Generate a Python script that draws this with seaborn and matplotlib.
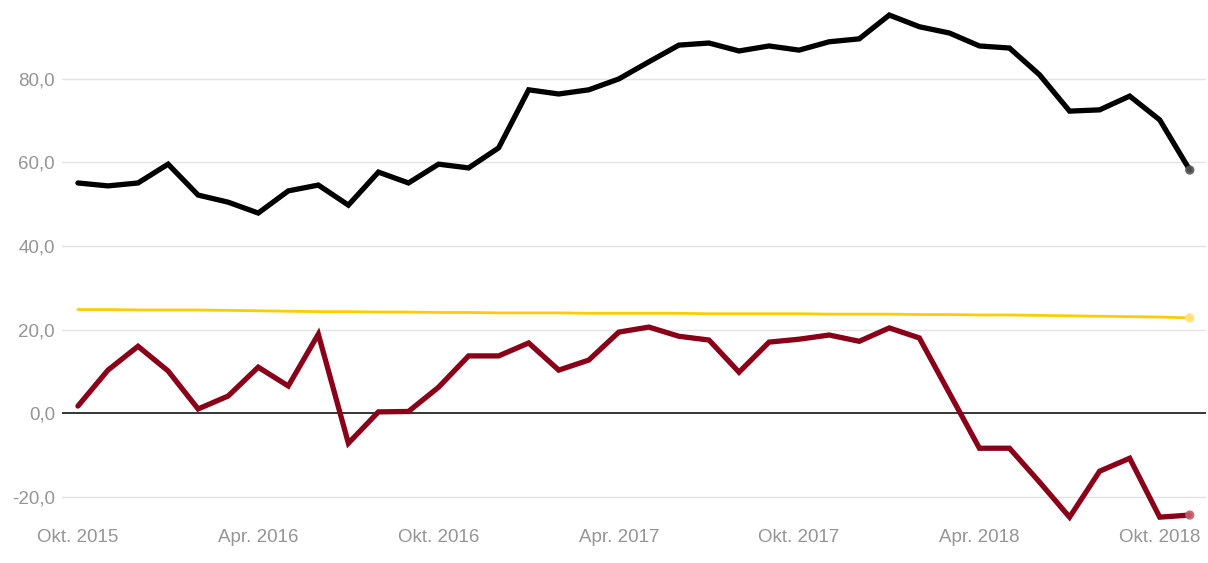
import matplotlib
matplotlib.use("Agg")
import matplotlib.pyplot as plt
import seaborn as sns
import pandas as pd

# --- data (monthly, Okt. 2015 .. Nov. 2018) ---
months = pd.date_range("2015-10-01", periods=38, freq="MS")

black_vals = [55.1, 54.4, 55.1, 59.6, 52.2, 50.5, 47.9, 53.2, 54.6, 49.8,
              57.7, 55.1, 59.6, 58.7, 63.5, 77.4, 76.4, 77.4, 80.0, 84.1,
              88.1, 88.6, 86.7, 87.9, 86.9, 88.9, 89.6, 95.3, 92.5, 91.0,
              87.9, 87.4, 81.0, 72.3, 72.6, 75.9, 70.2, 58.2]

red_vals = [1.7, 10.3, 16.0, 10.1, 1.0, 4.1, 11.0, 6.5, 18.9, -7.2,
            0.3, 0.4, 6.2, 13.7, 13.7, 16.8, 10.3, 12.7, 19.4, 20.6,
            18.4, 17.5, 9.8, 17.0, 17.7, 18.7, 17.2, 20.4, 18.0, 4.8,
            -8.4, -8.4, -16.5, -24.9, -13.9, -10.8, -24.9, -24.4]

yellow_vals = [24.8, 24.8, 24.7, 24.7, 24.7, 24.6, 24.5, 24.4, 24.3, 24.3,
               24.2, 24.2, 24.1, 24.1, 24.0, 24.0, 24.0, 23.9, 23.9, 23.9,
               23.9, 23.8, 23.8, 23.8, 23.8, 23.7, 23.7, 23.7, 23.6, 23.6,
               23.5, 23.5, 23.4, 23.3, 23.2, 23.1, 23.0, 22.8]

y_ticks = [-20, 0, 20, 40, 60, 80]
x_tick_pos = [0, 6, 12, 18, 24, 30, 36]
x_tick_labels = ["Okt. 2015", "Apr. 2016", "Okt. 2016", "Apr. 2017",
                 "Okt. 2017", "Apr. 2018", "Okt. 2018"]

df = pd.DataFrame({
    "idx": range(len(months)),
    "black": black_vals,
    "red": red_vals,
    "yellow": yellow_vals,
})

sns.set_style("white")
plt.rcParams["font.family"] = ["Liberation Sans", "DejaVu Sans"]

fig = plt.figure(figsize=(12.08, 5.63), dpi=100)
ax = fig.add_axes([62 / 1208, 40 / 563, (1206 - 62) / 1208, 523 / 563])

grid_c = "#e3e3e3"
for v in y_ticks:
    if v == 0:
        ax.axhline(v, color="black", lw=1.1, zorder=1)
    else:
        ax.axhline(v, color=grid_c, lw=1.0, zorder=0)

series = [("yellow", "#ffcc00", 2.0, "#ffe27a"),
          ("red", "#8b0019", 3.8, "#c0606e"),
          ("black", "#000000", 3.8, "#555555")]
for col, color, lw, mk in series:
    sns.lineplot(data=df, x="idx", y=col, color=color, lw=lw, ax=ax,
                 solid_joinstyle="miter", clip_on=False, zorder=3)
    ax.scatter(df["idx"].iloc[-1], df[col].iloc[-1], s=45, color=mk,
               zorder=4, clip_on=False, edgecolors="none", alpha=0.9)

ax.set_xlim(-0.53, 37.54)
ax.set_ylim(-26.3, 98.9)
ax.set_yticks(y_ticks)
ax.set_yticklabels([f"{v:.1f}".replace(".", ",") for v in y_ticks])
ax.set_xticks(x_tick_pos)
ax.set_xticklabels(x_tick_labels)
ax.tick_params(axis="both", length=0, labelsize=13.5, colors="#959595")
ax.tick_params(axis="y", pad=5)
ax.tick_params(axis="x", pad=4)
ax.set_xlabel("")
ax.set_ylabel("")
for s in ax.spines.values():
    s.set_visible(False)

fig.savefig("out.png", dpi=100)
